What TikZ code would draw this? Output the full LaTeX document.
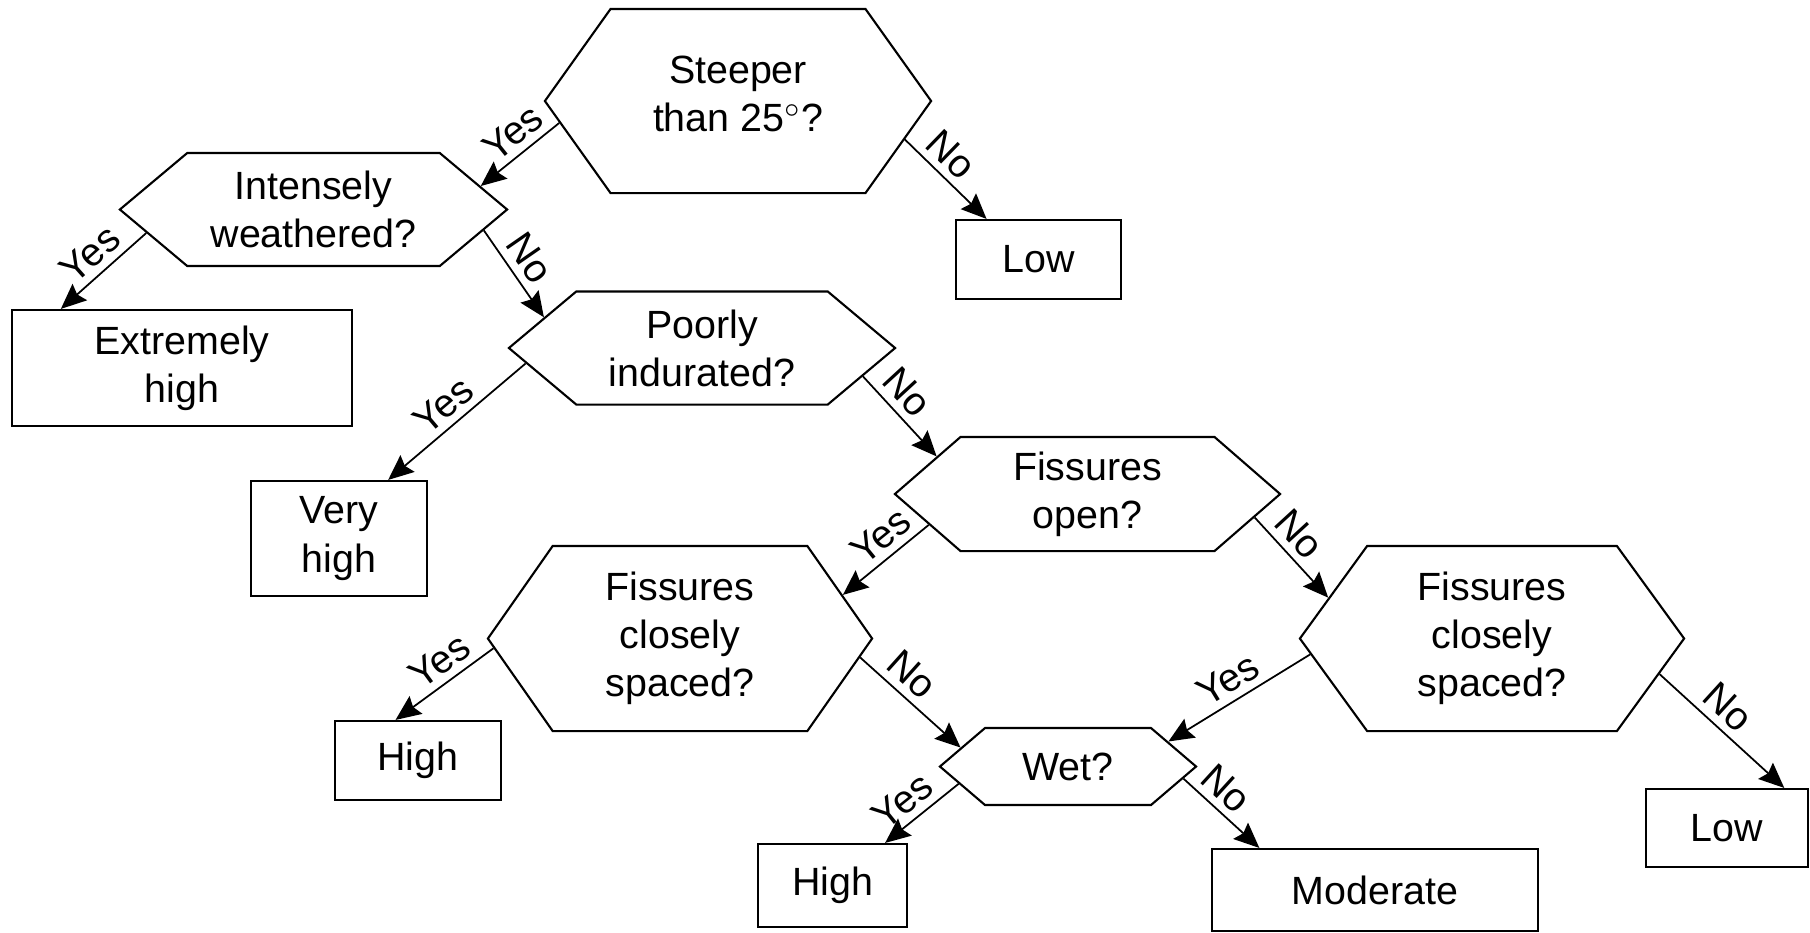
\documentclass[tikz,border=0pt]{standalone}
\usepackage{fontspec}
\setmainfont{Liberation Sans}
\usepackage{tikz}
\usetikzlibrary{arrows.meta, shapes.symbols}

\begin{document}
\begin{tikzpicture}[
    x=0.01cm, y=-0.01cm,
    font=\fontsize{11.2}{13.7}\selectfont,
    query/.style={signal, signal to=west and east, signal from=nowhere, draw, line width=0.6pt, inner sep=0pt, align=center},
    result/.style={rectangle, draw, line width=0.6pt, inner sep=0pt, align=center},
    edge/.style={-{Stealth[length=7.2pt, width=6.2pt, inset=1pt]}, line width=0.5pt},
    tag/.style={sloped, above, inner sep=2pt, pos=.42}
]
\useasboundingbox (0,0) rectangle (1810,932);

% Nodes
\node[query, minimum width=3.86cm, minimum height=1.84cm, signal pointer angle=109, text depth=4pt] (steep) at (738,101) {Steeper\\than 25$^\circ$?};
\node[query, minimum width=3.87cm, minimum height=1.13cm, signal pointer angle=80] (weath) at (313.5,209.5) {Intensely\\weathered?};
\node[query, minimum width=3.86cm, minimum height=1.13cm, signal pointer angle=80] (indur) at (702,348) {Poorly\\indurated?};
\node[query, minimum width=3.85cm, minimum height=1.14cm, signal pointer angle=82] (fopen) at (1087.5,494) {Fissures\\open?};
\node[query, minimum width=3.84cm, minimum height=1.85cm, signal pointer angle=110] (fclose) at (680,638.5) {Fissures\\closely\\spaced?};
\node[query, minimum width=3.84cm, minimum height=1.85cm, signal pointer angle=108] (fspace) at (1492,638.5) {Fissures\\closely\\spaced?};
\node[query, minimum width=2.56cm, minimum height=0.77cm, signal pointer angle=81] (wet) at (1068,766.5) {Wet?};

\node[result, minimum width=3.40cm, minimum height=1.16cm] (exhigh) at (182,368) {Extremely\\high};
\node[result, minimum width=1.65cm, minimum height=0.79cm] (low) at (1038.5,259.5) {Low};
\node[result, minimum width=1.76cm, minimum height=1.15cm] (vhigh) at (339,538.5) {Very\\high};
\node[result, minimum width=1.66cm, minimum height=0.79cm] (high) at (418,760.5) {High};
\node[result, minimum width=1.49cm, minimum height=0.83cm] (wethigh) at (832.5,885.5) {High};
\node[result, minimum width=3.26cm, minimum height=0.82cm] (moderate) at (1375,890) {Moderate};
\node[result, minimum width=1.62cm, minimum height=0.78cm] (lowest) at (1727,828) {Low};

% Edges
\draw[edge] (steep.187) -- node[tag] {Yes} (weath.8);
\draw[edge] (steep.347) -- node[tag, pos=.38] {No} (low.142);
\draw[edge] (weath.188) -- node[tag, pos=.49] {Yes} (exhigh.154);
\draw[edge] (weath.353) -- node[tag, pos=.46] {No} (indur.169);
\draw[edge] (indur.185) -- node[tag, pos=.5] {Yes} (vhigh.50);
\draw[edge] (indur.350) -- node[tag, pos=.38] {No} (fopen.166);
\draw[edge] (fopen.191) -- node[tag, pos=.4] {Yes} (fclose.15);
\draw[edge] (fopen.352) -- node[tag, pos=.39] {No} (fspace.166);
\draw[edge] (fclose.183) -- node[tag] {Yes} (high.119);
\draw[edge] (fclose.354) -- node[tag, pos=.37] {No} (wet.170);
\draw[edge] (fspace.185) -- node[tag, pos=.5] {Yes} (wet.14);
\draw[edge] (fspace.348) -- node[tag, pos=.43] {No} (lowest.35);
\draw[edge] (wet.189) -- node[tag, pos=.58] {Yes} (wethigh.39);
\draw[edge] (wet.354) -- node[tag, pos=.37] {No} (moderate.160);

\end{tikzpicture}
\end{document}
